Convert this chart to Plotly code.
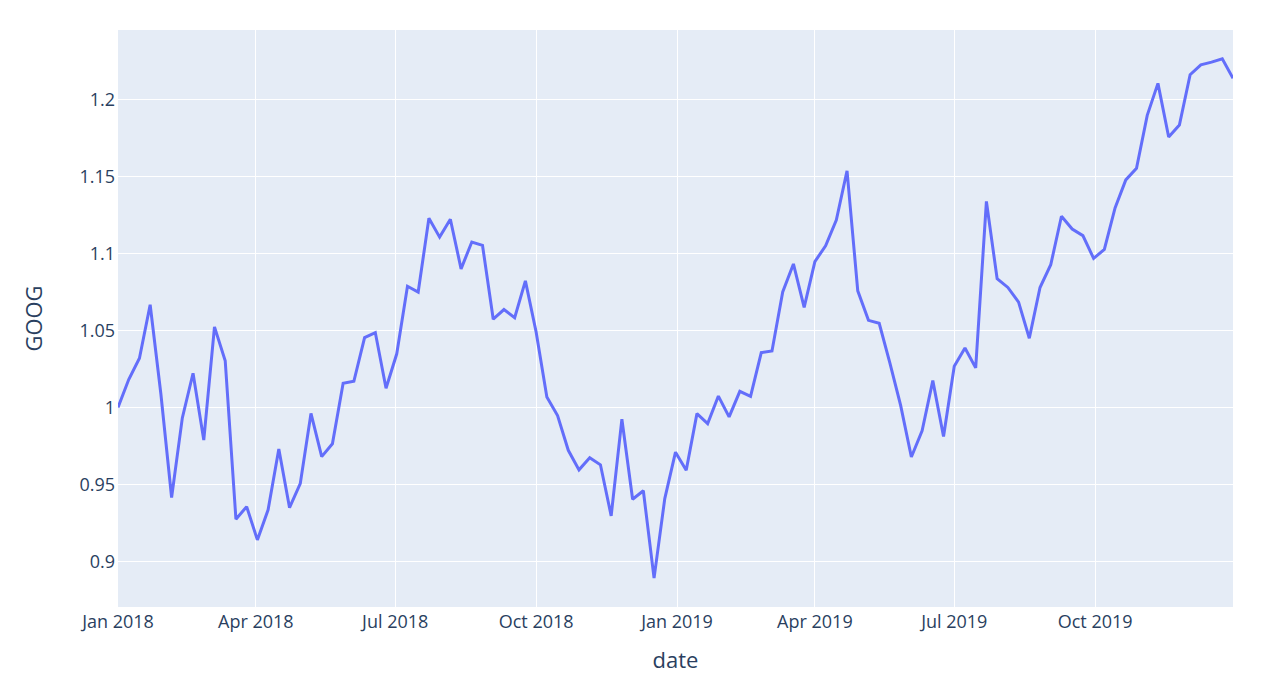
import plotly.graph_objects as go
import pandas as pd

dates = pd.date_range("2018-01-01", "2019-12-30", freq="7D")
goog = [
    1.000000, 1.018172, 1.032008, 1.066783, 1.008773, 0.941528, 0.993259, 1.022282,
    0.978852, 1.052448, 1.030389, 0.927445, 0.935598, 0.913976, 0.933568, 0.973117,
    0.934916, 0.950557, 0.996140, 0.968103, 0.976473, 1.015759, 1.017089, 1.045495,
    1.048726, 1.012532, 1.034926, 1.078838, 1.075040, 1.123046, 1.110743, 1.122389,
    1.090081, 1.107561, 1.105358, 1.057422, 1.063669, 1.058354, 1.082347, 1.049052,
    1.006823, 0.994826, 0.972204, 0.959502, 0.967323, 0.962782, 0.929614, 0.992420,
    0.940398, 0.945926, 0.889124, 0.940860, 0.970980, 0.959289, 0.996059, 0.989519,
    1.007442, 0.993959, 1.010538, 1.007295, 1.035636, 1.036719, 1.075096, 1.093328,
    1.065147, 1.094807, 1.105132, 1.121828, 1.153867, 1.075823, 1.056661, 1.054744,
    1.028813, 1.001414, 0.967820, 0.984917, 1.017489, 0.981218, 1.026837, 1.038644,
    1.025793, 1.133911, 1.083663, 1.078036, 1.068474, 1.045029, 1.077998, 1.092793,
    1.124272, 1.115966, 1.111709, 1.096908, 1.102757, 1.129685, 1.147948, 1.155530,
    1.189861, 1.210650, 1.175842, 1.183593, 1.216261, 1.222711, 1.224447, 1.226594,
    1.213982,
]

fig = go.Figure(go.Scatter(x=dates, y=goog, mode="lines", line=dict(color="#636efa", width=3), name="GOOG"))
fig.update_layout(
    template="plotly",
    width=1279, height=691,
    font=dict(size=18),
    margin=dict(l=118, r=46, t=30, b=84, autoexpand=False),
    showlegend=False,
)
fig.update_xaxes(title=dict(text="date", standoff=20), ticklabelstandoff=2)
fig.update_yaxes(title=dict(text="GOOG", standoff=30), ticklabelstandoff=2)
fig.write_html("out.html")
